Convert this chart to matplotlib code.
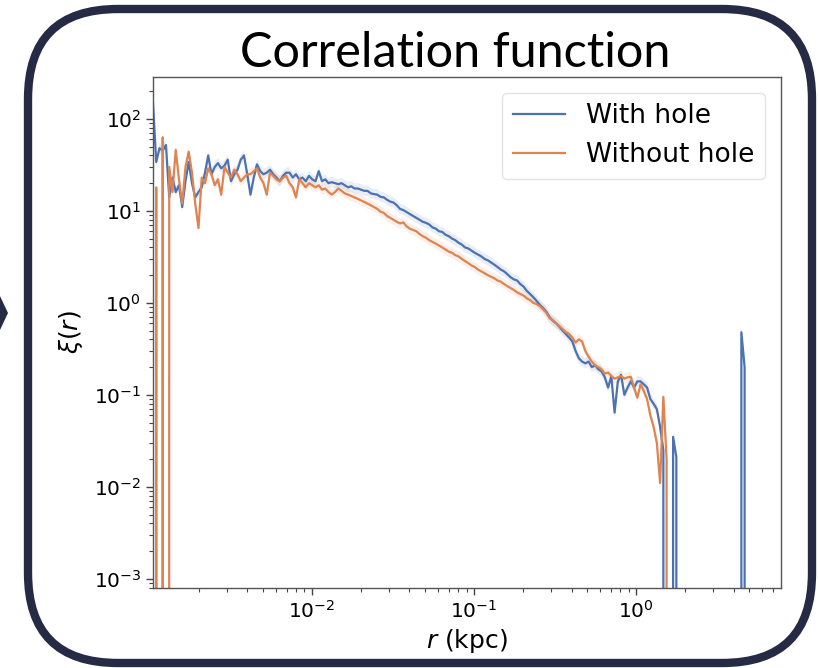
import numpy as np
import matplotlib
matplotlib.use('Agg')
from matplotlib import pyplot as plt
from matplotlib.patches import FancyBboxPatch, Polygon

# xi(r), one value per log-spaced bin (0 = empty bin)
xi_with_hole = [
    150, 34, 48, 45, 52, 14, 23, 16, 19, 11,
    21, 34, 20, 14, 16, 18, 26, 40, 25, 30,
    33, 29, 31, 36, 21, 25, 28, 36, 40, 25,
    15, 23, 32, 27, 25, 26, 28, 25, 23, 21,
    24, 26, 26, 23, 25, 22, 23, 21, 24, 22,
    21, 27, 21, 22, 20, 20.5, 20, 19.5, 20, 19,
    18, 18.5, 17.5, 17.5, 17, 16.5, 16.5, 15.5, 15.2, 15,
    14.2, 14, 13.2, 12.6, 12.3, 11.5, 10.5, 10.2, 9.7, 9.2,
    8.8, 8.4, 8.0, 7.6, 7.4, 7.1, 6.6, 6.4, 6.0, 5.9,
    5.5, 5.3, 5.0, 4.8, 4.5, 4.3, 4.0, 3.9, 3.7, 3.5,
    3.35, 3.2, 3.0, 2.9, 2.75, 2.6, 2.45, 2.3, 2.2, 2.05,
    1.9, 1.8, 1.75, 1.6, 1.5, 1.35, 1.25, 1.15, 1.05, 0.95,
    0.88, 0.8, 0.7, 0.64, 0.6, 0.55, 0.5, 0.46, 0.42, 0.38,
    0.30, 0.25, 0.23, 0.22, 0.23, 0.2, 0.21, 0.19, 0.18, 0.155,
    0.12, 0.16, 0.064, 0.14, 0.165, 0.1, 0.12, 0.14, 0.12, 0.14,
    0.14, 0.13, 0.12, 0.09, 0.08, 0.07, 0.045, 0.025, 0, 0,
    0.035, 0.021, 0, 0, 0, 0, 0, 0, 0, 0,
    0, 0, 0, 0, 0, 0, 0, 0, 0, 0,
    0, 0.48, 0.2, 0, 0, 0, 0, 0, 0, 0,
    0, 0, 0, 0,
]

xi_without_hole = [
    0, 18, 0, 63, 0, 30, 16, 46, 22, 12,
    30, 44, 26, 12, 6.5, 23, 20, 29, 25, 19,
    22, 15, 30, 26, 23, 28, 25, 21, 23, 25,
    25, 27, 29, 23, 20, 15, 26, 24, 22, 21,
    23, 24, 20, 18, 14, 22, 20, 18, 20, 19,
    18, 19, 17, 17.5, 16, 15, 16, 17.5, 16.5, 15.5,
    15, 14.5, 14, 13.5, 13, 12.5, 12, 11.5, 11, 10.5,
    9.8, 9.5, 8.8, 8.4, 8.0, 7.6, 7.3, 7.5, 6.8, 6.4,
    6.2, 6.0, 5.6, 5.3, 5.1, 4.8, 4.6, 4.4, 4.2, 4.0,
    3.8, 3.6, 3.5, 3.3, 3.2, 3.0, 2.85, 2.7, 2.55, 2.45,
    2.3, 2.2, 2.1, 2.0, 1.92, 1.85, 1.75, 1.7, 1.6, 1.52,
    1.45, 1.38, 1.3, 1.25, 1.2, 1.12, 1.07, 1.0, 0.97, 0.92,
    0.85, 0.78, 0.68, 0.65, 0.6, 0.56, 0.52, 0.48, 0.46, 0.42,
    0.37, 0.40, 0.38, 0.3, 0.26, 0.23, 0.21, 0.2, 0.19, 0.17,
    0.175, 0.16, 0.15, 0.155, 0.16, 0.15, 0.155, 0.157, 0.12, 0.093,
    0.13, 0.11, 0.09, 0.06, 0.045, 0.03, 0.011, 0.095, 0.02, 0,
    0, 0, 0, 0, 0, 0, 0, 0, 0, 0,
    0, 0, 0, 0, 0, 0, 0, 0, 0, 0,
    0, 0, 0, 0, 0, 0, 0, 0, 0, 0,
    0, 0, 0, 0,
]

labels = ['With hole', 'Without hole']
colors = ['#4C72B0', '#DD8452']

# bin centres, log-spaced in kpc
r = np.logspace(-2.98, 0.89, len(xi_with_hole))

fig = plt.figure(figsize=(8.18, 6.68), dpi=100)
fig.patch.set_facecolor('white')

# rounded slide frame + little arrow on the left
frame = FancyBboxPatch((0.28, 0.05), 7.84, 6.54,
                       boxstyle='round,pad=0,rounding_size=0.9',
                       transform=fig.dpi_scale_trans, fill=False,
                       edgecolor='#262B45', linewidth=6, zorder=0)
fig.patches.append(frame)
arrow = Polygon([(0.0, 3.72), (0.08, 3.55), (0.0, 3.38)], closed=True,
                transform=fig.dpi_scale_trans, facecolor='#262B45',
                edgecolor='none')
fig.patches.append(arrow)

fig.text(0.557, 0.921, 'Correlation function', ha='center', va='center',
         fontsize=35, family='Lato')

ax = fig.add_axes([0.187, 0.12, 0.768, 0.765])
ax.set_xscale('log')
ax.set_yscale('log')

for xi, lab, col in zip([xi_with_hole, xi_without_hole], labels, colors):
    xi = np.array(xi, dtype=float)
    ax.fill_between(r, xi * 0.88, xi * 1.14, color=col, alpha=0.12, lw=0)
    ax.plot(r, xi, color=col, lw=1.6, label=lab)

ax.set_xlim(10**-2.98, 10**0.895)
ax.set_ylim(10**-3.098, 10**2.457)
ax.set_xlabel(r'$r$ (kpc)', fontsize=18, labelpad=4)
ax.set_ylabel(r'$\xi(r)$', fontsize=18, labelpad=6)
ax.tick_params(which='major', labelsize=14.5, length=5, width=1, color='#444444')
ax.tick_params(which='minor', length=3, width=0.8, color='#444444')
for sp in ax.spines.values():
    sp.set_color('#555555')
    sp.set_linewidth(1.0)

ax.legend(loc='upper right', fontsize=19, frameon=True, handlelength=2.0,
          labelspacing=0.5, borderpad=0.4, borderaxespad=0.6,
          edgecolor='#dddddd', fancybox=True)

plt.savefig('out.png', dpi=100)
